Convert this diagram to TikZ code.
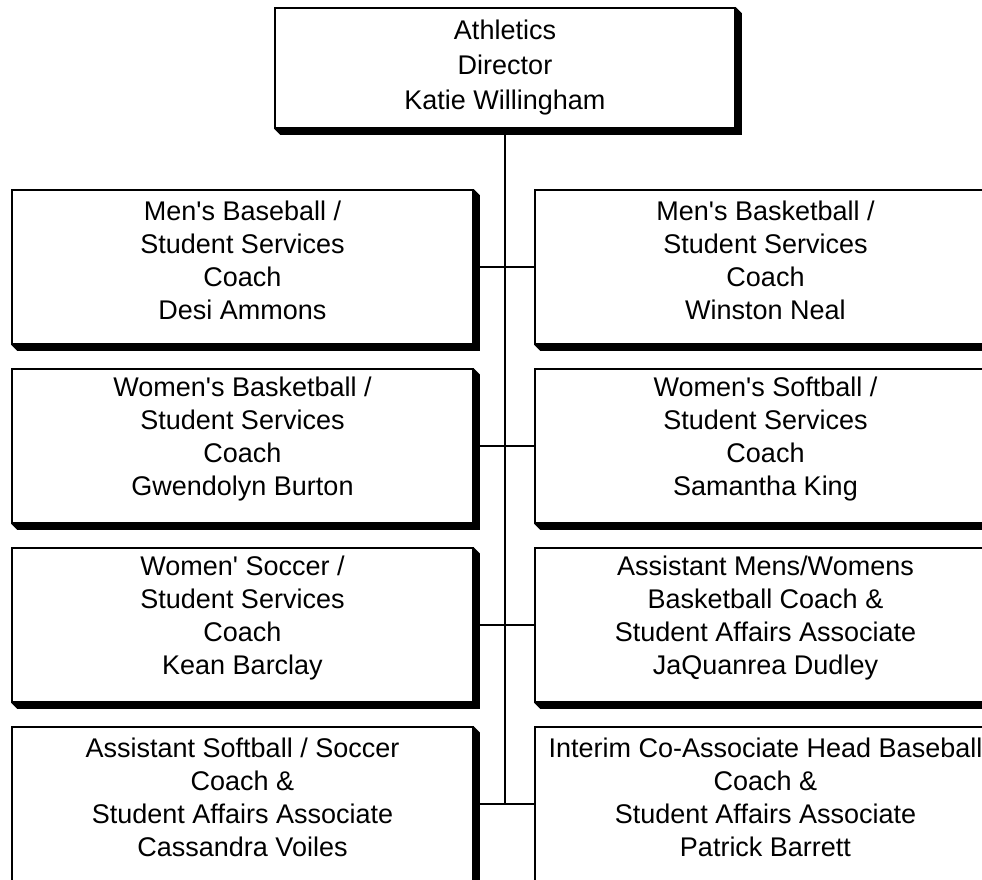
\documentclass[tikz,border=0pt]{standalone}
\usepackage{fontspec}
\setmainfont{Liberation Sans}[Ligatures=TeXOff]
\usetikzlibrary{calc,backgrounds}
\begin{document}
\begin{tikzpicture}[x=1pt,y=-1pt,
  orgbox/.style={draw=black, line width=1.5pt, fill=white, inner sep=0pt,
    minimum width=461pt, minimum height=154pt},
  boxtext/.style={align=center, inner sep=0pt, yshift=7pt,
    font=\fontsize{27}{33}\selectfont},
  topbox/.style={draw=black, line width=1.5pt, fill=white, inner sep=0pt,
    minimum width=460pt, minimum height=120pt, align=center,
    font=\fontsize{27}{35}\selectfont},
  link/.style={draw=black, line width=1.5pt},
  shadowfill/.style={fill=black}]
\useasboundingbox (0,0) rectangle (982,879);
\node[topbox] (top) at (505,68) {Athletics\\Director\\Katie Willingham};
\node[orgbox, label={[boxtext,name=L1t]center:Men's Baseball /\\Student Services\\Coach\\Desi Ammons}] (L1) at (242.5,267) {};
\node[orgbox, label={[boxtext,name=R1t]center:Men's Basketball /\\Student Services\\Coach\\Winston Neal}] (R1) at (765.5,267) {};
\node[orgbox, label={[boxtext,name=L2t]center:Women's Basketball /\\Student Services\\Coach\\Gwendolyn Burton}] (L2) at (242.5,446) {};
\node[orgbox, label={[boxtext,name=R2t]center:Women's Softball /\\Student Services\\Coach\\Samantha King}] (R2) at (765.5,446) {};
\node[orgbox, label={[boxtext,name=L3t]center:Women' Soccer /\\Student Services\\Coach\\Kean Barclay}] (L3) at (242.5,625) {};
\node[orgbox, label={[boxtext,name=R3t]center:Assistant Mens/Womens\\Basketball Coach \&\\Student Affairs Associate\\JaQuanrea Dudley}] (R3) at (765.5,625) {};
\node[orgbox, label={[boxtext,name=L4t]center:Assistant Softball / Soccer\\Coach \&\\Student Affairs Associate\\Cassandra Voiles}] (L4) at (242.5,804) {};
\node[orgbox, label={[boxtext,name=R4t]center:Interim Co-Associate Head Baseball\\Coach \&\\Student Affairs Associate\\Patrick Barrett}] (R4) at (765.5,804) {};
\coordinate (vend) at (505,804);
\begin{scope}[on background layer]
\foreach \b in {top,L1,R1,L2,R2,L3,R3,L4,R4}{
  \fill[shadowfill] (\b.south west) -- ($(\b.south west)+(6,6)$) -- ($(\b.south east)+(6,6)$)
    -- ($(\b.north east)+(6,6)$) -- (\b.north east) -- cycle;
}
\draw[link] (top.south) -- (vend);
\draw[link] (L1.east) -- (R1.west);
\draw[link] (L2.east) -- (R2.west);
\draw[link] (L3.east) -- (R3.west);
\draw[link] (L4.east) -- (R4.west);
\end{scope}
\end{tikzpicture}
\end{document}
